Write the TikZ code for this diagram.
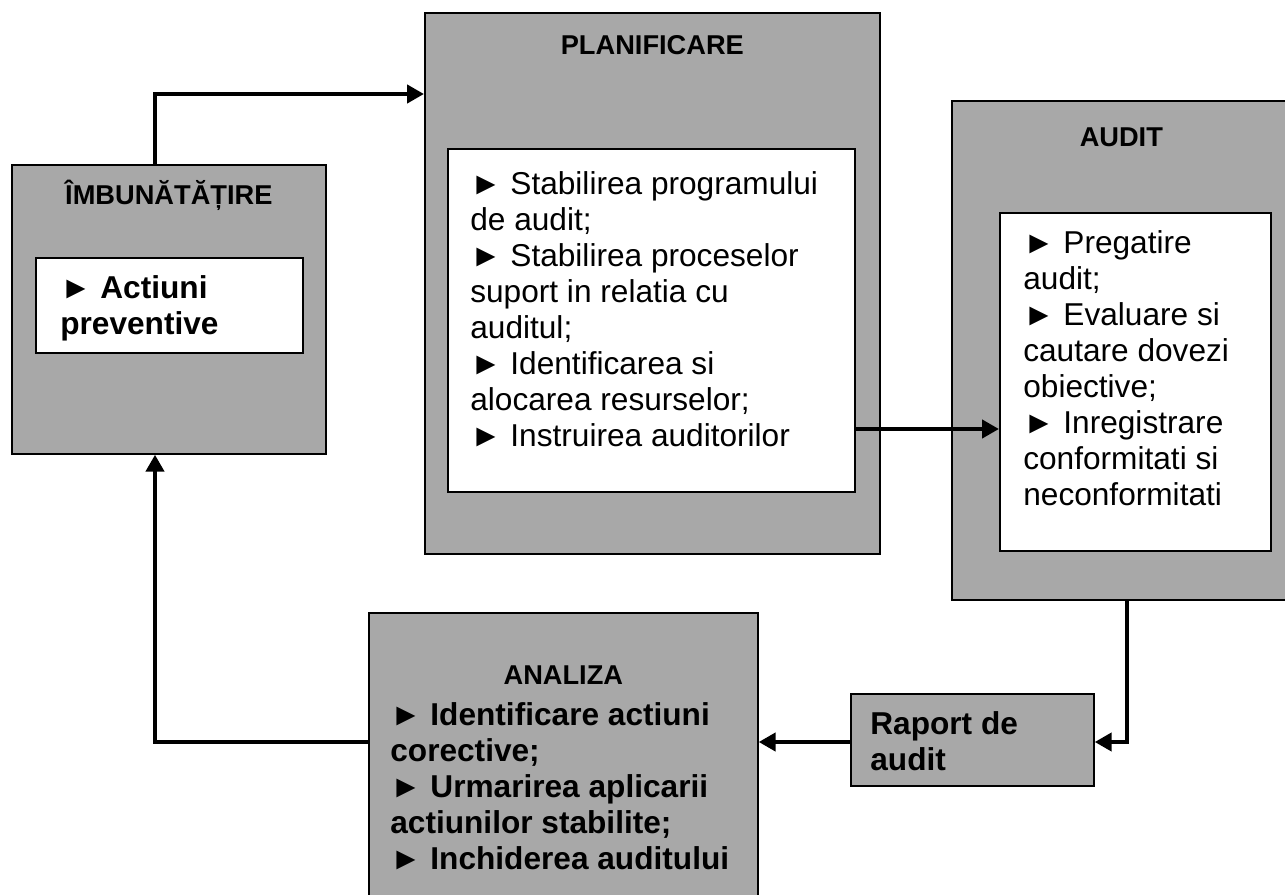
\documentclass[tikz,border=0pt]{standalone}
\usepackage{fontspec}
\setmainfont{Liberation Sans}
\usetikzlibrary{positioning,arrows.meta}
\definecolor{boxgray}{gray}{0.66}

\begin{document}
\begin{tikzpicture}[x=0.02cm, y=-0.02cm,
    every node/.style={inner sep=0pt, text=black},
    outer/.style={draw, fill=boxgray, line width=1pt, anchor=north west},
    inner/.style={draw, fill=white, line width=1pt, anchor=north west},
    heading/.style={font=\fontsize{15.5}{18}\selectfont\bfseries, anchor=base},
    items/.style={align=left, font=\fontsize{18}{20.5}\selectfont},
    flow/.style={line width=2.6pt, -{Triangle[length=3.4mm,width=3.6mm]}},
    ]
  \useasboundingbox (0,0) rectangle (1285,895);

  % grey boxes
  \node[outer, minimum width=6.28cm, minimum height=5.78cm] (imb) at (11,164) {};
  \node[outer, minimum width=9.1cm, minimum height=10.82cm] (plan) at (424,12) {};
  \node[outer, minimum width=6.78cm, minimum height=9.98cm] (audit) at (951,100) {};
  \node[outer, minimum width=7.78cm, minimum height=5.8cm] (analiza) at (368,612) {};
  \node[outer, minimum width=4.86cm, minimum height=1.84cm] (raport) at (850,693) {};

  % white boxes
  \node[inner, minimum width=5.34cm, minimum height=1.9cm, below right=1.86cm and 0.48cm of imb.north west] (imbin) {};
  \node[inner, minimum width=8.14cm, minimum height=6.86cm, below right=2.72cm and 0.46cm of plan.north west] (planin) {};
  \node[inner, minimum width=5.42cm, minimum height=6.76cm, below right=2.24cm and 0.96cm of audit.north west] (auditin) {};

  % titles
  \node[heading] (imbtitle) at ([yshift=-8.2mm]imb.north) {ÎMBUNĂTĂȚIRE};
  \node[heading] (plantitle) at ([yshift=-8.6mm]plan.north) {PLANIFICARE};
  \node[heading] (audittitle) at ([yshift=-9.4mm]audit.north) {AUDIT};
  \node[heading] (analizatitle) at ([yshift=-14.6mm]analiza.north) {ANALIZA};

  % texts
  \node[items, font=\fontsize{18}{20.5}\selectfont\bfseries, below right=0.36cm and 0.5cm of imbin.north west] (imbtext)
    {► Actiuni\\preventive};
  \node[items, below right=0.46cm and 0.46cm of planin.north west] (plantext)
    {► Stabilirea programului\\de audit;\\► Stabilirea proceselor\\suport in relatia cu\\auditul;\\► Identificarea si\\alocarea resurselor;\\► Instruirea auditorilor};
  \node[items, below right=0.36cm and 0.48cm of auditin.north west] (audittext)
    {► Pregatire\\audit;\\► Evaluare si\\cautare dovezi\\obiective;\\► Inregistrare\\conformitati si\\neconformitati};
  \node[items, font=\fontsize{18}{20.5}\selectfont\bfseries, below right=1.8cm and 0.44cm of analiza.north west] (analizatext)
    {► Identificare actiuni\\corective;\\► Urmarirea aplicarii\\actiunilor stabilite;\\► Inchiderea auditului};
  \node[items, font=\fontsize{18}{20.5}\selectfont\bfseries, below right=0.36cm and 0.4cm of raport.north west] (raporttext)
    {Raport de\\audit};

  % connectors
  \coordinate (toprow) at (0,94);
  \coordinate (midrow) at (0,429);
  \coordinate (botrow) at (0,742);
  \coordinate (leftcol) at (155,0);
  \coordinate (rightcol) at (1127,0);

  \draw[flow] (imb.north -| leftcol) |- (plan.west |- toprow);
  \draw[flow] (planin.east |- midrow) -- (auditin.west |- midrow);
  \draw[flow] (audit.south -| rightcol) |- (raport.east |- botrow);
  \draw[flow] (raport.west |- botrow) -- (analiza.east |- botrow);
  \draw[flow] (analiza.west |- botrow) -| (imb.south -| leftcol);
\end{tikzpicture}
\end{document}
